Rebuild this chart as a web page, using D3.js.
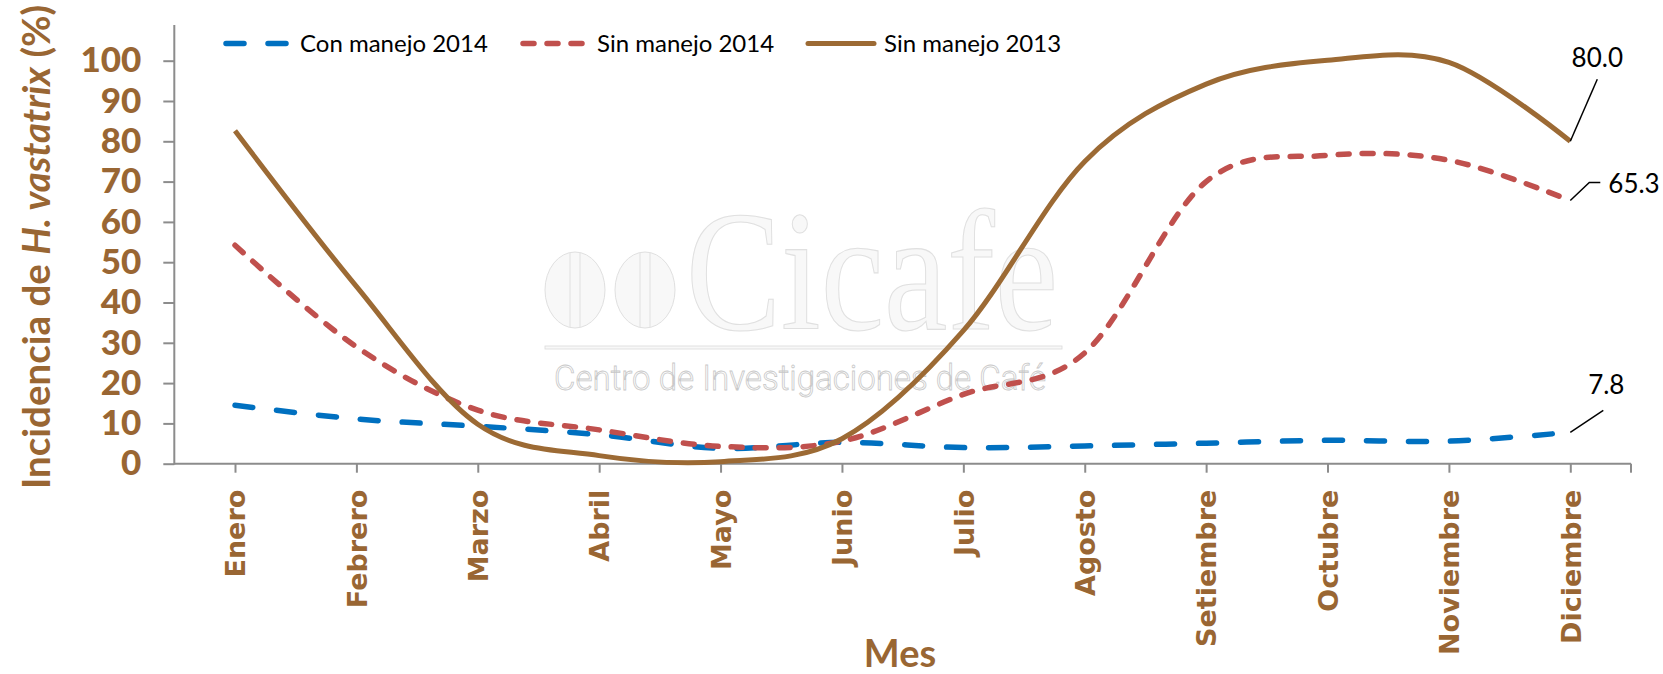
<!DOCTYPE html>
<html>
<head>
<meta charset="utf-8">
<script src="https://cdn.jsdelivr.net/npm/d3@7"></script>
<style>
  body { margin: 0; background: #fff; }
  svg { display: block; }
</style>
</head>
<body>
<script>
// datos
var meses = ["Enero", "Febrero", "Marzo", "Abril", "Mayo", "Junio", "Julio",
             "Agosto", "Setiembre", "Octubre", "Noviembre", "Diciembre"];
var conManejo2014 = [14.5, 11.1, 9.3, 7.2, 3.8, 5.3, 4.0, 4.4, 5.1, 5.8, 5.6, 7.8];
var sinManejo2014 = [54.2, 29.0, 13.3, 8.4, 4.3, 5.6, 17.2, 27.5, 70.0, 76.5, 75.3, 65.3];
var sinManejo2013 = [82.6, 44.0, 9.8, 2.0, 0.5, 6.2, 33.0, 75.0, 94.2, 100.1, 99.6, 80.0];
var yTicks = [0, 10, 20, 30, 40, 50, 60, 70, 80, 90, 100];
var nombres = ["Con manejo 2014", "Sin manejo 2014", "Sin manejo 2013"];

var width = 1663, height = 674;
var brown = "#996633";
var axisColor = "#8c8c8c";

var series = [
  {name: nombres[0], values: conManejo2014, color: "#0070c0", dash: "18,24", w: 5.5,
   leader: [[33, -22]], text: [36, -48], anchor: "middle"},
  {name: nombres[1], values: sinManejo2014, color: "#c0504d", dash: "11,13", w: 5.5,
   leader: [[19, -18], [30, -18]], text: [38, -17], anchor: "start"},
  {name: nombres[2], values: sinManejo2013, color: "#9c6a34", dash: null, w: 5,
   leader: [[27, -62]], text: [27, -84], anchor: "middle"}
];

var svg = d3.select("body").append("svg")
    .attr("width", width).attr("height", height);

var x = d3.scalePoint().domain(meses).range([235, 1570.3]);
var y = d3.scaleLinear().domain([0, 100]).range([463.7, 60.7]);
var x0 = x(meses[0]) - x.step() / 2,
    x1 = x(meses[meses.length - 1]) + x.step() / 2;

// marca de agua
var wm = svg.append("g").attr("class", "watermark");
[575, 645].forEach(function(cx) {
  wm.append("ellipse").attr("cx", cx).attr("cy", 290).attr("rx", 30).attr("ry", 38)
    .attr("fill", "#f8f8f8").attr("stroke", "#e0e0e0").attr("stroke-width", 1);
  [-5, 5].forEach(function(o) {
    wm.append("line").attr("x1", cx + o).attr("x2", cx + o).attr("y1", 253).attr("y2", 327)
      .attr("stroke", "#e0e0e0").attr("stroke-width", 1);
  });
});
wm.append("text").attr("x", 686).attr("y", 329)
  .attr("textLength", 372).attr("lengthAdjust", "spacingAndGlyphs")
  .style("font-family", "'Liberation Serif', serif").style("font-size", "150px")
  .attr("transform", "translate(0,329) scale(1,1.15) translate(0,-329)")
  .attr("fill", "#f8f8f8").attr("stroke", "#e0e0e0").attr("stroke-width", 1)
  .text("Cicafe");
wm.append("rect").attr("x", 545).attr("y", 346).attr("width", 517).attr("height", 3)
  .attr("fill", "#f8f8f8").attr("stroke", "#dadada").attr("stroke-width", 0.8);
wm.append("text").attr("x", 554).attr("y", 390)
  .attr("textLength", 492).attr("lengthAdjust", "spacingAndGlyphs")
  .style("font-family", "Roboto, sans-serif").style("font-weight", 300).style("font-size", "35px")
  .attr("fill", "#fdfdfd").attr("stroke", "#c8c8c8").attr("stroke-width", 0.8)
  .text("Centro de Investigaciones de Café");

// eje y
var yAxis = svg.append("g").attr("transform", "translate(" + x0 + ",0)")
    .call(d3.axisLeft(y).tickValues(yTicks).tickSize(11).tickSizeOuter(0).tickPadding(22));
yAxis.select(".domain").remove();
yAxis.selectAll(".tick line").attr("stroke", axisColor).attr("stroke-width", 2);
yAxis.selectAll(".tick text")
    .style("font-family", "Lato, sans-serif").style("font-weight", "900")
    .style("font-size", "35px").attr("fill", brown);
yAxis.append("line").attr("x1", 0).attr("x2", 0).attr("y1", y(0) + 1).attr("y2", 25)
    .attr("stroke", axisColor).attr("stroke-width", 2);

// eje x
var xAxis = svg.append("g").attr("transform", "translate(0," + y(0) + ")")
    .call(d3.axisBottom(x).tickSize(9).tickSizeOuter(0));
xAxis.select(".domain").remove();
xAxis.selectAll(".tick line").attr("stroke", axisColor).attr("stroke-width", 2);
xAxis.selectAll(".tick text")
    .attr("transform", "rotate(-90)")
    .attr("x", -26).attr("y", 0).attr("dy", "0.36em")
    .style("text-anchor", "end")
    .style("font-family", "'DejaVu Sans', sans-serif").style("font-weight", "bold")
    .style("font-size", "27px").attr("fill", brown);
xAxis.append("line").attr("x1", x0).attr("x2", x1).attr("y1", 0).attr("y2", 0)
    .attr("stroke", axisColor).attr("stroke-width", 2);
xAxis.append("line").attr("x1", x1).attr("x2", x1).attr("y1", 0).attr("y2", 9)
    .attr("stroke", axisColor).attr("stroke-width", 2);

// titulos
svg.append("text").attr("x", 900).attr("y", 667)
    .style("text-anchor", "middle")
    .style("font-family", "Lato, sans-serif").style("font-weight", "bold")
    .style("font-size", "38px").attr("fill", brown).text("Mes");

var yt = svg.append("text")
    .attr("transform", "translate(50,247) rotate(-90)")
    .style("text-anchor", "middle")
    .style("font-family", "Lato, sans-serif").style("font-weight", "bold")
    .style("font-size", "38.5px").attr("fill", brown);
yt.append("tspan").text("Incidencia de ");
yt.append("tspan").style("font-style", "italic").text("H. vastatrix");
yt.append("tspan").text(" (%)");

// lineas
var line = d3.line()
    .x(function(d, i) { return x(meses[i]); })
    .y(function(d) { return y(d); })
    .curve(d3.curveCardinal.tension(0));

series.forEach(function(s) {
  svg.append("path").datum(s.values)
    .attr("d", line)
    .attr("fill", "none")
    .attr("stroke", s.color)
    .attr("stroke-width", s.w)
    .attr("stroke-linecap", s.dash ? "round" : "butt")
    .attr("stroke-linejoin", "round")
    .attr("stroke-dasharray", s.dash);
});

// etiquetas del ultimo mes
series.forEach(function(s) {
  var last = s.values.length - 1;
  var px = x(meses[last]), py = y(s.values[last]);
  var pts = [[px, py]].concat(s.leader.map(function(p) { return [px + p[0], py + p[1]]; }));
  svg.append("path").attr("d", d3.line()(pts))
    .attr("fill", "none").attr("stroke", "#000").attr("stroke-width", 1.5);
  svg.append("text")
    .attr("x", px + s.text[0]).attr("y", py + s.text[1]).attr("dy", "0.36em")
    .style("text-anchor", s.anchor)
    .style("font-family", "Lato, sans-serif").style("font-size", "26px")
    .attr("fill", "#000")
    .text(d3.format(".1f")(s.values[last]));
});

// leyenda
var legX = [223, 520, 808];
var leg = svg.append("g").attr("class", "legend");
series.forEach(function(s, i) {
  var g = leg.append("g").attr("transform", "translate(" + legX[i] + ",43.5)");
  g.append("line").attr("x1", s.dash ? 3 : 0).attr("x2", 66).attr("y1", 0).attr("y2", 0)
    .attr("stroke", s.color).attr("stroke-width", s.w)
    .attr("stroke-linecap", "round")
    .attr("stroke-dasharray", s.dash);
  g.append("text").attr("x", i == 2 ? 76 : 77).attr("y", 0).attr("dy", "0.36em")
    .style("font-family", "Lato, sans-serif").style("font-size", "24px")
    .attr("fill", "#000").text(s.name);
});
</script>
</body>
</html>
